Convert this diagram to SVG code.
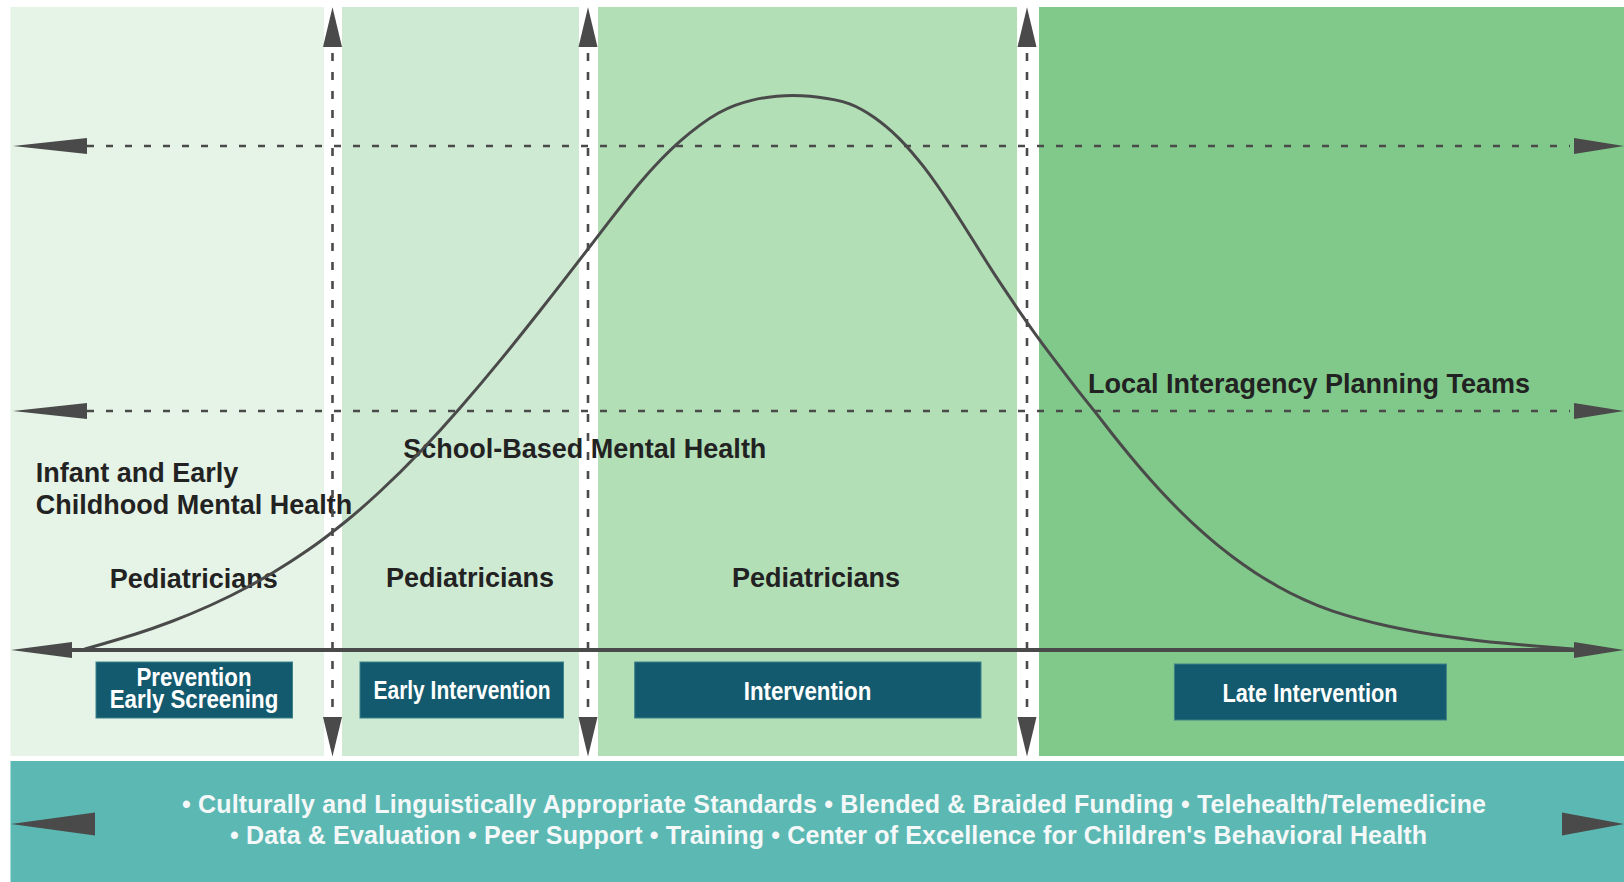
<svg xmlns="http://www.w3.org/2000/svg" width="1624" height="882" viewBox="0 0 1624 882">
<style>
.ah{fill:#4a4a4a}
.dh{stroke:#4a4a4a;stroke-width:2.6;stroke-dasharray:7 12;fill:none}
.dv{stroke:#4a4a4a;stroke-width:2.6;stroke-dasharray:8 11;fill:none}
.lbl{font-family:"Liberation Sans",Arial,sans-serif;font-weight:bold;font-size:27px;fill:#222222}
.box{fill:#135a6e;stroke:#3d8289;stroke-width:1}
.bt{font-family:"Liberation Sans",Arial,sans-serif;font-weight:bold;font-size:25.5px;fill:#ffffff;text-anchor:middle}
.band{font-family:"Liberation Sans",Arial,sans-serif;font-weight:bold;font-size:25px;fill:#f4f8f8;text-anchor:middle}
</style>
<rect width="1624" height="882" fill="#ffffff"/>
<g id="panels">
<rect x="10.5" y="7" width="313.5" height="749" fill="#e6f4e7"/>
<rect x="342" y="7" width="237" height="749" fill="#cfead3"/>
<rect x="598" y="7" width="419" height="749" fill="#b2dfb6"/>
<rect x="1039" y="7" width="585" height="749" fill="#80c98a"/>
<rect x="10.5" y="761" width="1613.5" height="121" fill="#5cb8b3"/>
</g>
<g id="labels">
<text class="lbl" x="35.7" y="481.7">Infant and Early</text>
<text class="lbl" x="35.7" y="514">Childhood Mental Health</text>
<text class="lbl" x="403.3" y="458.3">School-Based Mental Health</text>
<text class="lbl" x="1088" y="393.3">Local Interagency Planning Teams</text>
<text class="lbl" x="193.8" y="587.5" text-anchor="middle">Pediatricians</text>
<text class="lbl" x="470" y="587" text-anchor="middle">Pediatricians</text>
<text class="lbl" x="816" y="586.5" text-anchor="middle">Pediatricians</text>
</g>
<g id="connectors">
<line class="dh" x1="87" y1="146" x2="1570" y2="146"/>
<polygon class="ah" points="13,146 87,138 87,154"/>
<polygon class="ah" points="1624,146 1574,138 1574,154"/>
<line class="dh" x1="87" y1="411" x2="1570" y2="411"/>
<polygon class="ah" points="13,411 87,403 87,419"/>
<polygon class="ah" points="1624,411 1574,403 1574,419"/>
<line class="dv" x1="332.5" y1="53" x2="332.5" y2="717"/>
<polygon class="ah" points="332.5,7.3 323,47 342,47"/>
<polygon class="ah" points="332.5,756.5 323,717 342,717"/>
<line class="dv" x1="588" y1="53" x2="588" y2="717"/>
<polygon class="ah" points="588,7.3 578.5,47 597.5,47"/>
<polygon class="ah" points="588,756.5 578.5,717 597.5,717"/>
<line class="dv" x1="1027" y1="53" x2="1027" y2="717"/>
<polygon class="ah" points="1027,7.3 1017.5,47 1036.5,47"/>
<polygon class="ah" points="1027,756.5 1017.5,717 1036.5,717"/>
<line x1="70" y1="650" x2="1576" y2="650" stroke="#4a4a4a" stroke-width="4"/>
<polygon class="ah" points="11,650 72,642 72,658"/>
<polygon class="ah" points="1624,650 1574,642 1574,658"/>
<path id="curve" fill="none" stroke="#4a4a4a" stroke-width="3" stroke-linejoin="round" stroke-linecap="round" d="M85,649 L102.5,644 Q120,639 136.5,633.75 Q153,628.5 171.5,621.5 Q190,614.5 210,605.5 Q230,596.5 250,585.75 Q270,575 290,562 Q310,549 321,540.75 Q332,532.5 346,521.25 Q360,510 380,491.5 Q400,473 420,452 Q440,431 460,408 Q480,385 500,360.6 Q520,336.2 540,310.8 Q560,285.4 574,267.2 Q588,249 607.5,223.65 Q627,198.3 638.5,184.5 Q650,170.7 661,159.5 Q672,148.3 681,140.4 Q690,132.5 700,125.1 Q710,117.7 718.5,113 Q727,108.3 735,105.35 Q743,102.4 751.5,100.35 Q760,98.3 768.5,97.2 Q777,96.1 785,95.7 Q793,95.3 801.5,95.75 Q810,96.2 818.5,97.25 Q827,98.3 835,99.9 Q843,101.5 849.5,103.95 Q856,106.4 862,109.7 Q868,113 874,117.2 Q880,121.4 886.5,126.9 Q893,132.4 899,138.4 Q905,144.4 911.5,151.9 Q918,159.4 924,167.2 Q930,175 936.5,184.25 Q943,193.5 949,202.6 Q955,211.7 961.5,221.95 Q968,232.2 974,241.8 Q980,251.4 986.5,261.8 Q993,272.2 1001.5,284.95 Q1010,297.7 1018.5,310.1 Q1027,322.5 1035,333.65 Q1043,344.8 1051.5,355.9 Q1060,367 1069,378.9 Q1078,390.8 1087,401.9 Q1096,413 1104.5,424 Q1113,435 1121.5,445.55 Q1130,456.1 1140,467.75 Q1150,479.4 1160,490.2 Q1170,501 1180,510.95 Q1190,520.9 1200,529.95 Q1210,539 1218,545.45 Q1226,551.9 1234.5,558.25 Q1243,564.6 1254.5,572.15 Q1266,579.7 1278,586.45 Q1290,593.2 1304,599.7 Q1318,606.2 1332,610.85 Q1346,615.5 1359.5,619.15 Q1373,622.8 1386.5,625.8 Q1400,628.8 1415,631.5 Q1430,634.2 1445,636.3 Q1460,638.4 1475,640.15 Q1490,641.9 1505,643.35 Q1520,644.8 1535,646.05 Q1550,647.3 1576,649.3"/>
<polygon class="ah" points="11,824 95,812.5 95,835.5"/>
<polygon class="ah" points="1624,824 1562,812.5 1562,835.5"/>
</g>
<g id="node-prevention">
<rect class="box" x="96" y="662" width="196.5" height="56"/>
<text class="bt" x="194" y="686" font-size="22" textLength="115" lengthAdjust="spacingAndGlyphs">Prevention</text>
<text class="bt" x="194" y="708.3" font-size="22" textLength="168.5" lengthAdjust="spacingAndGlyphs">Early Screening</text>
</g>
<g id="node-early-intervention">
<rect class="box" x="360" y="662" width="203.5" height="56"/>
<text class="bt" x="462" y="699" textLength="177" lengthAdjust="spacingAndGlyphs">Early Intervention</text>
</g>
<g id="node-intervention">
<rect class="box" x="634.7" y="662" width="346.3" height="56"/>
<text class="bt" x="807.5" y="700" textLength="127.5" lengthAdjust="spacingAndGlyphs">Intervention</text>
</g>
<g id="node-late-intervention">
<rect class="box" x="1174.4" y="664" width="272" height="56"/>
<text class="bt" x="1310" y="702" textLength="175" lengthAdjust="spacingAndGlyphs">Late Intervention</text>
</g>
<g id="band-text">
<text class="band" x="834" y="813" textLength="1304" lengthAdjust="spacing">• Culturally and Linguistically Appropriate Standards • Blended &amp; Braided Funding • Telehealth/Telemedicine</text>
<text class="band" x="828.5" y="844" textLength="1197" lengthAdjust="spacing">• Data &amp; Evaluation • Peer Support • Training • Center of Excellence for Children's Behavioral Health</text>
</g>
</svg>
